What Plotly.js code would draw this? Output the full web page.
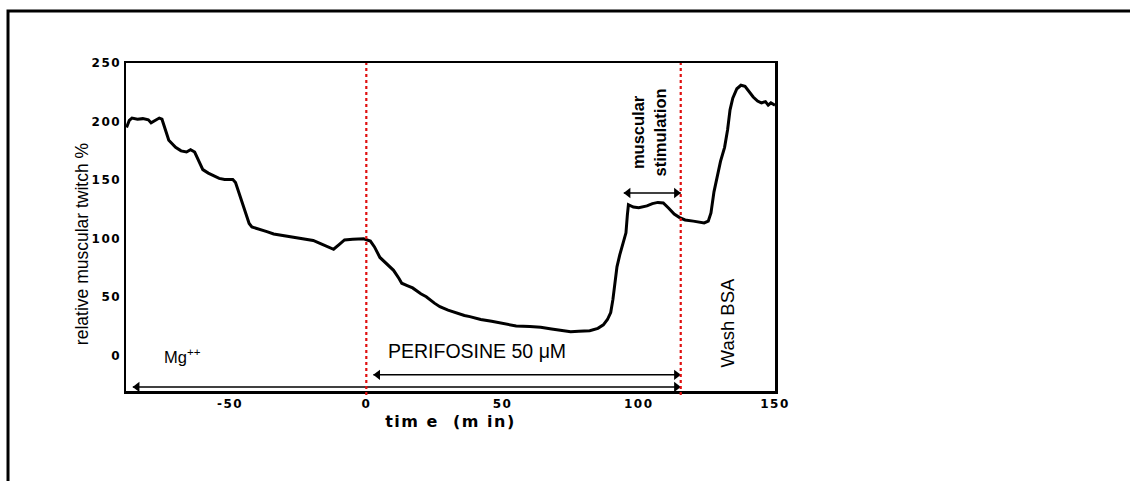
<!DOCTYPE html>
<html>
<head>
<meta charset="utf-8">
<script src="https://cdn.plot.ly/plotly-3.0.1.min.js"></script>
<style>
  html, body { margin: 0; padding: 0; background: #fff; }
  #chart { width: 1130px; height: 481px; }
  .xtitle { letter-spacing: 1.5px; }
  .ytitle { translate: 5px 17px; }
  .xtick text, .ytick text { letter-spacing: 1.5px; }
</style>
</head>
<body>
<div id="chart"></div>
<script>
// time (min)
const time = [-88, -87, -86, -84, -82, -80, -79, -77.5, -76, -75, -73.5, -72.5, -70, -68, -66, -64.5, -63, -61.5, -60, -58, -56, -54, -52, -49, -48, -46.5, -45.5, -44, -43, -42, -39, -36.5, -34, -31.5, -29, -27, -24, -21.5, -19.5, -17, -14.5, -12, -10, -8, -5, -1, 1.5, 3, 5, 8, 10, 12, 13, 15, 17, 20, 22, 25, 27, 30, 33, 36, 38, 42, 46, 50, 55, 60, 64, 68, 72, 75, 78, 82, 85, 87, 88.5, 89.7, 90.5, 91, 92, 93, 94.5, 95.3, 95.8, 96.2, 98, 100, 103, 105, 107, 109, 111, 113, 115, 117, 120, 124, 125.5, 126.5, 127.6, 129, 130, 131.5, 132.6, 133.5, 134.5, 136, 137.5, 139, 140.5, 142, 143.6, 145, 146.5, 147.5, 148.5, 150];
// relative muscular twitch (%)
const twitch = [195, 201, 203, 202, 202.5, 201.5, 199, 201, 203, 202, 190, 184, 178, 175, 174, 176, 174, 167, 159, 156, 154, 151.5, 150.5, 150.5, 148, 138, 130, 121, 113, 110, 108, 106, 104, 103, 102.5, 101.5, 100.5, 99, 98.5, 96, 93.5, 91, 95, 99, 99.5, 100, 98, 93, 84, 77, 73, 66, 62, 60, 58, 53, 50.5, 45, 42, 39, 36.5, 34.5, 33.5, 31, 29.5, 28, 25.5, 25, 24.5, 23, 21.5, 20.5, 21, 21.5, 23.5, 26.5, 31, 37, 48, 56, 76, 86, 99, 105, 120, 129, 127, 126.5, 128, 130, 131, 130.5, 126, 121, 118, 116, 115, 113.5, 115, 122, 140, 155, 166, 178, 193, 210, 220, 228, 231, 230, 225, 221, 217.5, 216, 217, 214, 216, 214];

const xTickVals = [-50, 0, 50, 100, 150];
const xTickText = ['-50', '0', '50', '100', '150'];
const yTickVals = [0, 50, 100, 150, 200, 250];
const yTickText = ['0', '50', '100', '150', '200', '250'];

// treatment periods (min) and the levels of their arrows (%)
const mgPeriod = [-85.7, 115.4];
const perifosinePeriod = [2.6, 115.4];
const stimPeriod = [94.5, 115.4];
const mgArrowLevel = -26.5;
const perifosineArrowLevel = -16.2;
const stimArrowLevel = 139;
const redLines = [0, 115.4];

const sans = 'Liberation Sans, Arial, sans-serif';
const heavy = 'DejaVu Sans, Liberation Sans, sans-serif';

const curve = {
  x: time, y: twitch, type: 'scatter', mode: 'lines',
  line: { color: '#000', width: 3 }, hoverinfo: 'skip'
};

// double-headed arrows: a line with triangle heads whose tips sit on the ends
const headHalf = 1.6; // half a head, in minutes
function arrowTrace(period, level) {
  return [
    { x: period, y: [level, level], type: 'scatter', mode: 'lines',
      line: { color: '#000', width: 1.5 }, hoverinfo: 'skip' },
    { x: [period[0] + headHalf, period[1] - headHalf], y: [level, level], type: 'scatter', mode: 'markers',
      marker: { symbol: ['triangle-left', 'triangle-right'], size: 9, color: '#000', line: { width: 0 } },
      hoverinfo: 'skip' }
  ];
}

const traces = [curve]
  .concat(arrowTrace(mgPeriod, mgArrowLevel))
  .concat(arrowTrace(perifosinePeriod, perifosineArrowLevel))
  .concat(arrowTrace(stimPeriod, stimArrowLevel));

const layout = {
  width: 1130, height: 481,
  margin: { l: 126, r: 355, t: 63, b: 90 },
  paper_bgcolor: '#fff', plot_bgcolor: '#fff',
  showlegend: false,
  xaxis: {
    range: [-88.2, 150], tickvals: xTickVals, ticktext: xTickText,
    showgrid: false, zeroline: false, ticks: '',
    showline: true, linecolor: '#000', linewidth: 2.5, mirror: true,
    tickfont: { family: heavy, size: 12, color: '#000', weight: 'bold' },
    title: { text: 'tim e  (m in)', standoff: 6, font: { family: heavy, size: 16, color: '#000', weight: 'bold' } }
  },
  yaxis: {
    range: [-30, 250], tickvals: yTickVals, ticktext: yTickText,
    showgrid: false, zeroline: false, ticks: '',
    showline: true, linecolor: '#000', linewidth: 2.5, mirror: true,
    tickfont: { family: heavy, size: 12, color: '#000', weight: 'bold' },
    title: { text: 'relative muscular twitch %', standoff: 1, font: { family: sans, size: 17.5, color: '#000' } }
  },
  shapes: redLines.map(v => ({
    type: 'line', xref: 'x', yref: 'paper', x0: v, x1: v, y0: -0.012, y1: 1,
    line: { color: '#e01010', width: 2.2, dash: 'dot' }
  })).concat([
    { type: 'path', xref: 'paper', yref: 'paper',
      path: 'M -0.1818,-0.35 L -0.1818,1.1585 L 1.6,1.1585',
      line: { color: '#000', width: 3 } }
  ]),
  annotations: [
    { x: -75, y: 0, xref: 'x', yref: 'y', xanchor: 'left', yanchor: 'middle', showarrow: false,
      text: 'Mg<sup>++</sup>', font: { family: sans, size: 16.5, color: '#000' } },
    { x: 40.5, y: 4, xref: 'x', yref: 'y', xanchor: 'center', yanchor: 'middle', showarrow: false,
      text: 'PERIFOSINE 50 μM', font: { family: sans, size: 19.5, color: '#000' } },
    { x: 103.5, y: 191, xref: 'x', yref: 'y', xanchor: 'center', yanchor: 'middle', showarrow: false,
      textangle: -90, text: 'muscular<br>stimulation', font: { family: sans, size: 16.5, color: '#000', weight: 'bold' } },
    { x: 132.5, y: 28, xref: 'x', yref: 'y', xanchor: 'center', yanchor: 'middle', showarrow: false,
      textangle: -90, text: 'Wash BSA', font: { family: sans, size: 18.5, color: '#000' } }
  ]
};

Plotly.newPlot('chart', traces, layout, { staticPlot: true, displayModeBar: false });
</script>
</body>
</html>
